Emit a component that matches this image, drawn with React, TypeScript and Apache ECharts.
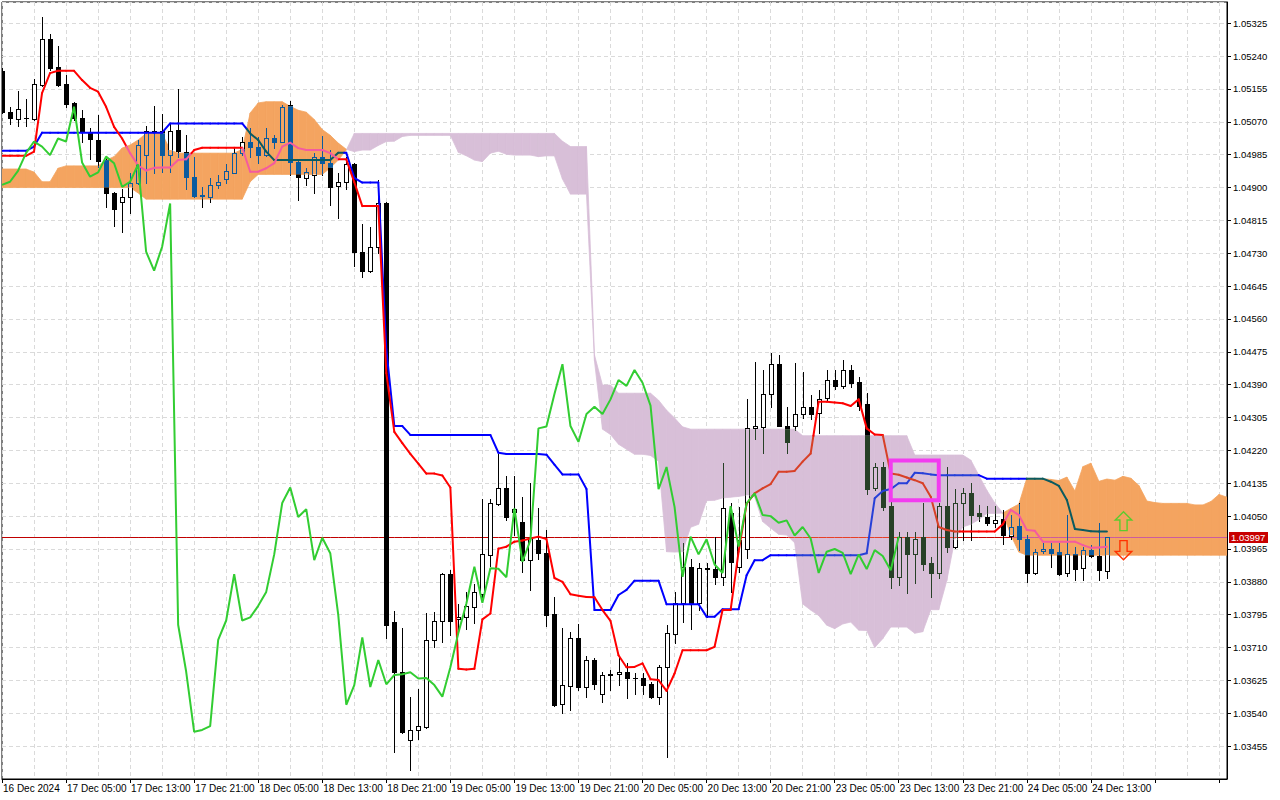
import React, { useEffect, useRef } from "react";
import * as echarts from "echarts";

// ---------------- data ----------------
const xLabels = [
  "16 Dec 2024", "17 Dec 05:00", "17 Dec 13:00", "17 Dec 21:00", "18 Dec 05:00", "18 Dec 13:00",
  "18 Dec 21:00", "19 Dec 05:00", "19 Dec 13:00", "19 Dec 21:00", "20 Dec 05:00", "20 Dec 13:00",
  "20 Dec 21:00", "23 Dec 05:00", "23 Dec 13:00", "23 Dec 21:00", "24 Dec 05:00", "24 Dec 13:00",
];

const opens = [
  1.05202, 1.05095, 1.05077, 1.05079, 1.05077, 1.05165, 1.05284, 1.05211, 1.05168, 1.05118,
  1.05079, 1.05042, 1.05023, 1.04971, 1.04887, 1.04862, 1.04876, 1.04911, 1.04984, 1.05045,
  1.05046, 1.04984, 1.05049, 1.04993, 1.04928, 1.04879, 1.04876, 1.04906, 1.04922, 1.04938,
  1.04989, 1.05019, 1.05006, 1.04984, 1.05029, 1.05019, 1.05114, 1.04965, 1.04924, 1.04932,
  1.04980, 1.04963, 1.04904, 1.04915, 1.04960, 1.04733, 1.04685, 1.04747, 1.04859, 1.03775,
  1.03648, 1.03470, 1.03497, 1.03505, 1.03730, 1.03780, 1.03900, 1.03783, 1.03788, 1.03816,
  1.03849, 1.03949, 1.04081, 1.04124, 1.04061, 1.04035, 1.03936, 1.03987, 1.03954, 1.03797,
  1.03563, 1.03611, 1.03736, 1.03608, 1.03678, 1.03591, 1.03640, 1.03641, 1.03646, 1.03630,
  1.03630, 1.03615, 1.03581, 1.03659, 1.03744, 1.03824, 1.03919, 1.03824, 1.03915, 1.03912,
  1.03892, 1.04057, 1.03918, 1.03965, 1.04277, 1.04281, 1.04366, 1.04443, 1.04284, 1.04283,
  1.04314, 1.04333, 1.04316, 1.04355, 1.04402, 1.04387, 1.04428, 1.04396, 1.04340, 1.04122,
  1.04177, 1.04075, 1.03893, 1.03995, 1.03951, 1.03995, 1.03928, 1.03902, 1.04076, 1.03969,
  1.04083, 1.04109, 1.04057, 1.04048, 1.04033, 1.04042, 1.03998, 1.04024, 1.03992, 1.03903,
  1.03960, 1.03965, 1.03956, 1.03902, 1.03951, 1.03915, 1.03962, 1.03947, 1.03909,
];

const highs = [
  1.05209, 1.05108, 1.05151, 1.05128, 1.05180, 1.05341, 1.05297, 1.05266, 1.05190, 1.05122,
  1.05101, 1.05053, 1.05088, 1.04980, 1.04889, 1.04895, 1.04937, 1.05023, 1.05060, 1.05111,
  1.05090, 1.05066, 1.05154, 1.05036, 1.04980, 1.04902, 1.04924, 1.04932, 1.04960, 1.05002,
  1.05032, 1.05053, 1.05032, 1.05055, 1.05036, 1.05114, 1.05125, 1.04971, 1.04950, 1.04990,
  1.05033, 1.04997, 1.04937, 1.04980, 1.04964, 1.04806, 1.04798, 1.04920, 1.04863, 1.03805,
  1.03760, 1.03581, 1.03604, 1.03800, 1.03803, 1.03903, 1.03910, 1.03823, 1.03854, 1.03874,
  1.04094, 1.04094, 1.04211, 1.04155, 1.04155, 1.04099, 1.04137, 1.04070, 1.04015, 1.03842,
  1.03760, 1.03751, 1.03770, 1.03688, 1.03683, 1.03647, 1.03653, 1.03686, 1.03669, 1.03643,
  1.03643, 1.03621, 1.03665, 1.03768, 1.03853, 1.03981, 1.03938, 1.03928, 1.03928, 1.03997,
  1.04187, 1.04085, 1.04074, 1.04352, 1.04449, 1.04428, 1.04471, 1.04467, 1.04333, 1.04445,
  1.04424, 1.04363, 1.04376, 1.04428, 1.04428, 1.04454, 1.04441, 1.04411, 1.04368, 1.04187,
  1.04190, 1.04087, 1.04010, 1.04010, 1.04010, 1.04083, 1.03945, 1.04083, 1.04176, 1.04119,
  1.04122, 1.04136, 1.04079, 1.04076, 1.04075, 1.04066, 1.04053, 1.04083, 1.04001, 1.03964,
  1.03980, 1.03980, 1.03980, 1.04053, 1.03971, 1.03971, 1.03975, 1.04033, 1.03997,
];

const lows = [
  1.05093, 1.05064, 1.05060, 1.05060, 1.05076, 1.05163, 1.05204, 1.05163, 1.05109, 1.05075,
  1.05019, 1.04973, 1.04954, 1.04849, 1.04801, 1.04786, 1.04835, 1.04909, 1.04911, 1.04937,
  1.04941, 1.04941, 1.04978, 1.04896, 1.04876, 1.04849, 1.04863, 1.04898, 1.04913, 1.04937,
  1.04984, 1.04980, 1.04963, 1.04982, 1.05002, 1.05018, 1.04932, 1.04868, 1.04907, 1.04887,
  1.04932, 1.04855, 1.04820, 1.04895, 1.04697, 1.04669, 1.04682, 1.04731, 1.03734, 1.03441,
  1.03490, 1.03392, 1.03473, 1.03503, 1.03711, 1.03724, 1.03742, 1.03757, 1.03757, 1.03773,
  1.03833, 1.03920, 1.04079, 1.04040, 1.04002, 1.03905, 1.03859, 1.03938, 1.03766, 1.03559,
  1.03542, 1.03548, 1.03600, 1.03583, 1.03603, 1.03568, 1.03600, 1.03613, 1.03580, 1.03591,
  1.03591, 1.03580, 1.03564, 1.03426, 1.03721, 1.03777, 1.03757, 1.03807, 1.03790, 1.03874,
  1.03872, 1.03854, 1.03906, 1.03941, 1.04249, 1.04214, 1.04333, 1.04283, 1.04214, 1.04273,
  1.04304, 1.04301, 1.04264, 1.04350, 1.04378, 1.04381, 1.04385, 1.04324, 1.04107, 1.04117,
  1.04066, 1.03863, 1.03872, 1.03852, 1.03878, 1.03910, 1.03841, 1.03889, 1.03958, 1.03967,
  1.03988, 1.03988, 1.04038, 1.04027, 1.04022, 1.03978, 1.03990, 1.03962, 1.03880, 1.03901,
  1.03954, 1.03919, 1.03897, 1.03896, 1.03886, 1.03886, 1.03944, 1.03886, 1.03889,
];

const closes = [
  1.05096, 1.05079, 1.05102, 1.05080, 1.05167, 1.05284, 1.05210, 1.05165, 1.05116, 1.05079,
  1.05044, 1.05025, 1.04969, 1.04885, 1.04845, 1.04876, 1.04911, 1.05010, 1.05045, 1.05046,
  1.04984, 1.05047, 1.04995, 1.04928, 1.04879, 1.04880, 1.04907, 1.04915, 1.04943, 1.04989,
  1.05019, 1.05006, 1.04984, 1.05027, 1.05019, 1.05109, 1.04965, 1.04928, 1.04939, 1.04980,
  1.04963, 1.04902, 1.04915, 1.04960, 1.04734, 1.04685, 1.04747, 1.04859, 1.03769, 1.03648,
  1.03492, 1.03497, 1.03507, 1.03730, 1.03780, 1.03900, 1.03780, 1.03788, 1.03818, 1.03854,
  1.03951, 1.04084, 1.04124, 1.04048, 1.04068, 1.03936, 1.03994, 1.03954, 1.03794, 1.03562,
  1.03613, 1.03736, 1.03608, 1.03678, 1.03615, 1.03639, 1.03641, 1.03646, 1.03630, 1.03631,
  1.03613, 1.03583, 1.03659, 1.03748, 1.03824, 1.03919, 1.03826, 1.03915, 1.03914, 1.03892,
  1.04070, 1.03932, 1.03988, 1.04277, 1.04282, 1.04366, 1.04443, 1.04283, 1.04242, 1.04314,
  1.04333, 1.04314, 1.04352, 1.04402, 1.04387, 1.04428, 1.04395, 1.04336, 1.04120, 1.04177,
  1.04074, 1.03893, 1.03997, 1.03951, 1.03990, 1.03925, 1.03903, 1.04076, 1.03971, 1.04083,
  1.04109, 1.04053, 1.04050, 1.04033, 1.04039, 1.04000, 1.04022, 1.03992, 1.03903, 1.03958,
  1.03965, 1.03955, 1.03900, 1.03951, 1.03913, 1.03962, 1.03947, 1.03910, 1.03997,
];

// Tenkan-sen (red)
const tenkan = [
  1.04982, 1.04982, 1.04982, 1.04982, 1.04993, 1.05144, 1.05196, 1.05202, 1.05202, 1.05202,
  1.05178, 1.05158, 1.05148, 1.05109, 1.05057, 1.05027, 1.04989, 1.04957, 1.04944, 1.04951,
  1.04952, 1.04952, 1.04971, 1.04973, 1.04997, 1.05003, 1.05003, 1.05003, 1.05003, 1.05003,
  1.05003, 1.04941, 1.04941, 1.04950, 1.04963, 1.05006, 1.05016, 1.05002, 1.04997, 1.04997,
  1.04997, 1.04989, 1.04973, 1.04973, 1.04914, 1.04852, 1.04852, 1.04852, 1.04420, 1.04268,
  1.04239, 1.04211, 1.04186, 1.04160, 1.04160, 1.04155, 1.04124, 1.03655, 1.03653, 1.03655,
  1.03783, 1.03798, 1.03966, 1.03971, 1.03984, 1.03987, 1.03992, 1.03997, 1.03991, 1.03890,
  1.03880, 1.03848, 1.03844, 1.03841, 1.03840, 1.03807, 1.03779, 1.03690, 1.03659, 1.03660,
  1.03669, 1.03628, 1.03626, 1.03598, 1.03643, 1.03703, 1.03703, 1.03703, 1.03703, 1.03712,
  1.03807, 1.03807, 1.03958, 1.04082, 1.04109, 1.04122, 1.04133, 1.04165, 1.04165, 1.04167,
  1.04191, 1.04212, 1.04346, 1.04346, 1.04344, 1.04342, 1.04335, 1.04352, 1.04277, 1.04261,
  1.04260, 1.04160, 1.04157, 1.04150, 1.04143, 1.04135, 1.04100, 1.04022, 1.04014, 1.04010,
  1.04010, 1.04010, 1.04010, 1.04010, 1.04010, 1.04029, 1.04066, 1.04053, 1.04014, 1.04012,
  1.03984, 1.03984, 1.03984, 1.03984, 1.03984, 1.03975, 1.03968, 1.03969, 1.03971,
];

// Kijun-sen (blue)
const kijun = [
  1.04995, 1.04995, 1.04995, 1.04995, 1.05006, 1.05042, 1.05042, 1.05042, 1.05042, 1.05042,
  1.05042, 1.05042, 1.05042, 1.05042, 1.05042, 1.05042, 1.05042, 1.05042, 1.05042, 1.05042,
  1.05042, 1.05066, 1.05066, 1.05066, 1.05066, 1.05066, 1.05066, 1.05066, 1.05066, 1.05066,
  1.05066, 1.05040, 1.05023, 1.04993, 1.04971, 1.04971, 1.04971, 1.04971, 1.04971, 1.04971,
  1.04971, 1.04971, 1.04990, 1.04990, 1.04925, 1.04913, 1.04913, 1.04913, 1.04482, 1.04283,
  1.04283, 1.04260, 1.04260, 1.04260, 1.04260, 1.04260, 1.04260, 1.04260, 1.04260, 1.04260,
  1.04260, 1.04260, 1.04214, 1.04211, 1.04211, 1.04211, 1.04211, 1.04211, 1.04209, 1.04183,
  1.04158, 1.04158, 1.04158, 1.04120, 1.03807, 1.03807, 1.03807, 1.03846, 1.03859, 1.03883,
  1.03883, 1.03883, 1.03883, 1.03822, 1.03822, 1.03822, 1.03822, 1.03822, 1.03790, 1.03790,
  1.03809, 1.03809, 1.03809, 1.03897, 1.03936, 1.03936, 1.03949, 1.03949, 1.03949, 1.03949,
  1.03949, 1.03949, 1.03949, 1.03949, 1.03949, 1.03949, 1.03949, 1.03949, 1.03954, 1.04096,
  1.04115, 1.04120, 1.04135, 1.04135, 1.04162, 1.04161, 1.04158, 1.04156, 1.04156, 1.04156,
  1.04156, 1.04156, 1.04156, 1.04147, 1.04147, 1.04147, 1.04147, 1.04147, 1.04147, 1.04147,
  1.04147, 1.04139, 1.04128, 1.04092, 1.04017, 1.04014, 1.04011, 1.04010, 1.04010,
];

// Senkou Span A (projected 26 bars ahead, 154 slots)
const spanA = [
  1.04948, 1.04948, 1.04948, 1.04948, 1.04940, 1.04915, 1.04915, 1.04950, 1.04956, 1.04956,
  1.04956, 1.04956, 1.04956, 1.04971, 1.04980, 1.05002, 1.05010, 1.05023, 1.05040, 1.05040,
  1.05040, 1.04997, 1.04989, 1.04989, 1.04989, 1.04989, 1.04989, 1.04989, 1.04989, 1.04989,
  1.04999, 1.05093, 1.05119, 1.05122, 1.05122, 1.05122, 1.05110, 1.05100, 1.05095, 1.05076,
  1.05050, 1.05035, 1.05015, 1.04999, 1.04993, 1.04997, 1.04997, 1.05009, 1.05019, 1.05020,
  1.05032, 1.05035, 1.05035, 1.05035, 1.05035, 1.05035, 1.05035, 1.04991, 1.04982, 1.04971,
  1.04967, 1.04989, 1.04994, 1.04986, 1.04984, 1.04984, 1.04984, 1.04980, 1.04982, 1.04982,
  1.04922, 1.04883, 1.04883, 1.04883, 1.04451, 1.04275, 1.04261, 1.04236, 1.04223, 1.04210,
  1.04210, 1.04207, 1.04192, 1.03958, 1.03957, 1.03958, 1.04021, 1.04029, 1.04090, 1.04091,
  1.04097, 1.04099, 1.04101, 1.04104, 1.04100, 1.04036, 1.04019, 1.04003, 1.04001, 1.03981,
  1.03823, 1.03807, 1.03793, 1.03768, 1.03759, 1.03771, 1.03776, 1.03755, 1.03754, 1.03710,
  1.03733, 1.03763, 1.03763, 1.03763, 1.03747, 1.03751, 1.03808, 1.03808, 1.03883, 1.03990,
  1.04022, 1.04029, 1.04041, 1.04057, 1.04057, 1.04058, 1.04070, 1.04081, 1.04148, 1.04148,
  1.04147, 1.04145, 1.04142, 1.04151, 1.04115, 1.04178, 1.04187, 1.04140, 1.04146, 1.04143,
  1.04153, 1.04148, 1.04129, 1.04089, 1.04085, 1.04083, 1.04083, 1.04083, 1.04083, 1.04079,
  1.04079, 1.04088, 1.04106, 1.04099,
];

// Senkou Span B (projected 26 bars ahead, 154 slots)
const spanB = [
  1.04900, 1.04900, 1.04900, 1.04900, 1.04900, 1.04900, 1.04900, 1.04900, 1.04900, 1.04900,
  1.04900, 1.04900, 1.04900, 1.04900, 1.04900, 1.04900, 1.04900, 1.04886, 1.04870, 1.04870,
  1.04870, 1.04870, 1.04870, 1.04870, 1.04870, 1.04870, 1.04870, 1.04870, 1.04870, 1.04870,
  1.04870, 1.04915, 1.04934, 1.04934, 1.04934, 1.04934, 1.04934, 1.04934, 1.04934, 1.04934,
  1.04934, 1.04951, 1.04971, 1.04997, 1.05040, 1.05040, 1.05040, 1.05040, 1.05040, 1.05040,
  1.05040, 1.05040, 1.05040, 1.05040, 1.05040, 1.05040, 1.05040, 1.05040, 1.05040, 1.05040,
  1.05040, 1.05040, 1.05040, 1.05040, 1.05040, 1.05040, 1.05040, 1.05040, 1.05040, 1.05040,
  1.05020, 1.05006, 1.05006, 1.05006, 1.04467, 1.04389, 1.04389, 1.04368, 1.04368, 1.04368,
  1.04368, 1.04368, 1.04350, 1.04324, 1.04304, 1.04281, 1.04275, 1.04275, 1.04275, 1.04275,
  1.04275, 1.04275, 1.04275, 1.04275, 1.04275, 1.04275, 1.04275, 1.04275, 1.04275, 1.04275,
  1.04258, 1.04258, 1.04258, 1.04258, 1.04258, 1.04258, 1.04258, 1.04258, 1.04258, 1.04258,
  1.04258, 1.04258, 1.04258, 1.04258, 1.04208, 1.04208, 1.04208, 1.04208, 1.04208, 1.04208,
  1.04208, 1.04195, 1.04156, 1.04117, 1.04084, 1.04058, 1.04001, 1.03957, 1.03949, 1.03949,
  1.03949, 1.03949, 1.03949, 1.03949, 1.03949, 1.03949, 1.03949, 1.03949, 1.03949, 1.03949,
  1.03949, 1.03949, 1.03949, 1.03949, 1.03949, 1.03949, 1.03949, 1.03949, 1.03949, 1.03949,
  1.03949, 1.03949, 1.03949, 1.03949,
];

// Chikou span = close plotted 26 bars back
const CHIKOU_SHIFT = 26;
const chikou = closes.slice(CHIKOU_SHIFT);

const lastPrice = 1.03997;
const signalBar = 140;
const buyArrowPrice = 1.04037;
const sellArrowPrice = 1.03962;
const boxBars = [111, 117];
const boxPrices = [1.04194, 1.04091];

const Y_MIN = 1.0337;
const Y_MAX = 1.0538;
const Y_STEP = 0.00085;
const SLOT_COUNT = 154;
const LABEL_EVERY = 8;

// ---------------- styling helpers ----------------
const ORANGE = "#F4A460";
const THISTLE = "#D8BFD8";
const FONT = "Liberation Sans, Arial, sans-serif";

const xorHex = (a: string, b: string) =>
  "#" + ((parseInt(a.slice(1), 16) ^ parseInt(b.slice(1), 16)) & 0xffffff).toString(16).padStart(6, "0");
// MT4 paints the cloud in XOR mode: anything under it is xored with the inverse cloud colour
const tint = (color: string, cloud: string) => xorHex(color, xorHex(cloud, "#FFFFFF"));

function splitRange(a: number, b: number, c1: number, c2: number) {
  const lo = Math.min(a, b), hi = Math.max(a, b);
  const p = Math.min(Math.max(c1, lo), hi);
  const q = Math.min(Math.max(c2, lo), hi);
  const out: { a: number; b: number; inside: boolean }[] = [];
  if (p - lo > 0.01) out.push({ a: lo, b: p, inside: false });
  if (q - p > 0.01) out.push({ a: p, b: q, inside: true });
  if (hi - q > 0.01) out.push({ a: q, b: hi, inside: false });
  return out;
}

function renderCloud(_params: any, api: any) {
  const i = api.value(0);
  const a0 = api.value(1), b0 = api.value(2), a1 = api.value(3), b1 = api.value(4);
  const pa0 = api.coord([i, a0]), pb0 = api.coord([i, b0]);
  const pa1 = api.coord([i + 1, a1]), pb1 = api.coord([i + 1, b1]);
  const d0 = a0 - b0, d1 = a1 - b1;
  const poly = (pts: number[][], bull: boolean) => ({
    type: "polygon",
    shape: { points: pts },
    style: { fill: bull ? ORANGE : THISTLE, stroke: bull ? ORANGE : THISTLE, lineWidth: 0.8 },
  });
  if (d0 * d1 >= 0) return poly([pa0, pa1, pb1, pb0], d0 + d1 >= 0);
  const t = d0 / (d0 - d1);
  const pc = [pa0[0] + (pa1[0] - pa0[0]) * t, pa0[1] + (pa1[1] - pa0[1]) * t];
  return { type: "group", children: [poly([pa0, pc, pb0], d0 > 0), poly([pc, pa1, pb1], d1 > 0)] };
}

function renderCandle(_params: any, api: any) {
  const i = api.value(0);
  const o = api.value(1), c = api.value(2), l = api.value(3), h = api.value(4);
  const px = (v: number) => api.coord([i, v]);
  const x = Math.round(px(o)[0]);
  const yO = px(o)[1], yC = px(c)[1], yL = px(l)[1], yH = px(h)[1];
  const yA = px(spanA[i])[1], yB = px(spanB[i])[1];
  const c1 = Math.min(yA, yB), c2 = Math.max(yA, yB);
  const cloud = spanA[i] >= spanB[i] ? ORANGE : THISTLE;
  const ink = (inside: boolean) => (inside ? tint("#000000", cloud) : "#000000");
  const isIn = (y: number) => y >= c1 && y <= c2;
  const top = Math.round(Math.min(yO, yC));
  const bot = Math.round(Math.max(yO, yC));
  const xc = x + 0.5;
  const left = x - 2, w = 5;
  const children: any[] = [];
  const vline = (xx: number, a: number, b: number, inside: boolean) => ({
    type: "line",
    shape: { x1: xx, y1: a, x2: xx, y2: b },
    style: { stroke: ink(inside), lineWidth: 1 },
  });
  const hline = (y: number) => ({
    type: "line",
    shape: { x1: left, y1: y + 0.5, x2: left + w, y2: y + 0.5 },
    style: { stroke: ink(isIn(y + 0.5)), lineWidth: 1 },
  });
  for (const s of splitRange(Math.round(yH), top, c1, c2)) children.push(vline(xc, s.a, s.b, s.inside));
  for (const s of splitRange(bot, Math.round(yL) + 1, c1, c2)) children.push(vline(xc, s.a, s.b, s.inside));
  if (bot - top < 1) {
    children.push(hline(top));
  } else if (c > o) {
    for (const s of splitRange(top, bot + 1, c1, c2)) {
      if (!s.inside)
        children.push({ type: "rect", shape: { x: left, y: s.a, width: w, height: s.b - s.a }, style: { fill: "#FFFFFF" } });
      children.push(vline(left + 0.5, s.a, s.b, s.inside));
      children.push(vline(left + w - 0.5, s.a, s.b, s.inside));
    }
    children.push(hline(top));
    children.push(hline(bot));
  } else {
    for (const s of splitRange(top, bot + 1, c1, c2))
      children.push({ type: "rect", shape: { x: left, y: s.a, width: w, height: s.b - s.a }, style: { fill: ink(s.inside) } });
  }
  return { type: "group", children };
}

function segmentRenderer(base: string, width: number, crisp: boolean) {
  return (_params: any, api: any) => {
    const i = api.value(0);
    const v0 = api.value(1), v1 = api.value(2);
    const a0 = spanA[i], a1 = spanA[i + 1], b0 = spanB[i], b1 = spanB[i + 1];
    const ts = [0, 1];
    const addCross = (d0: number, d1: number) => {
      if (d0 * d1 < 0) ts.push(d0 / (d0 - d1));
    };
    addCross(v0 - a0, v1 - a1);
    addCross(v0 - b0, v1 - b1);
    ts.sort((m, n) => m - n);
    const p0 = api.coord([i, v0]), p1 = api.coord([i + 1, v1]);
    if (crisp) {
      p0[1] = Math.round(p0[1]) + 0.5;
      p1[1] = Math.round(p1[1]) + 0.5;
    }
    const children: any[] = [];
    for (let k = 0; k < ts.length - 1; k++) {
      const t0 = ts[k], t1 = ts[k + 1];
      if (t1 - t0 < 1e-6) continue;
      const tm = (t0 + t1) / 2;
      const vm = v0 + (v1 - v0) * tm, am = a0 + (a1 - a0) * tm, bm = b0 + (b1 - b0) * tm;
      const inside = vm >= Math.min(am, bm) && vm <= Math.max(am, bm);
      const stroke = inside ? tint(base, am >= bm ? ORANGE : THISTLE) : base;
      children.push({
        type: "line",
        shape: {
          x1: p0[0] + (p1[0] - p0[0]) * t0,
          y1: p0[1] + (p1[1] - p0[1]) * t0,
          x2: p0[0] + (p1[0] - p0[0]) * t1,
          y2: p0[1] + (p1[1] - p0[1]) * t1,
        },
        style: { stroke, lineWidth: width, lineCap: crisp ? "butt" : "round" },
      });
    }
    return { type: "group", children };
  };
}

function renderArrow(_params: any, api: any) {
  const [cx, cy] = api.coord([api.value(0), api.value(1)]);
  const dir = api.value(2);
  const shape = [[0, -9.5], [8.3, -1.2], [3.6, -1.2], [3.6, 9.5], [-3.6, 9.5], [-3.6, -1.2], [-8.3, -1.2]];
  const pts = shape.map(([dx, dy]) => [Math.round(cx) + 0.5 + dx, cy + dy * dir]);
  return {
    type: "polygon",
    shape: { points: pts },
    style: { fill: "none", stroke: dir > 0 ? "#5CCB2E" : "#FF3300", lineWidth: 1.4 },
  };
}

function renderBox(_params: any, api: any) {
  const p0 = api.coord([api.value(0), api.value(1)]);
  const p1 = api.coord([api.value(2), api.value(3)]);
  return {
    type: "rect",
    shape: { x: p0[0], y: p0[1], width: p1[0] - p0[0], height: p1[1] - p0[1] },
    style: { fill: "none", stroke: "#F23CF0", lineWidth: 4 },
  };
}

function renderPriceLabel(_params: any, api: any) {
  const [xr, yp] = api.coord([api.value(0), api.value(1)]);
  const yc = Math.round(yp);
  return {
    type: "group",
    children: [
      { type: "rect", shape: { x: xr + 2, y: yc - 5, width: 39, height: 11 }, style: { fill: "#C80000" } },
      {
        type: "text",
        style: {
          x: xr + 4, y: yc + 0.5, text: api.value(1).toFixed(5), fill: "#FFFFFF",
          font: `9.5px ${FONT}`, verticalAlign: "middle", align: "left",
        },
      },
    ],
  };
}

export default function App() {
  const ref = useRef<HTMLDivElement>(null);
  useEffect(() => {
    if (!ref.current) return;
    const chart = echarts.init(ref.current, undefined, { renderer: "svg" });
    const slots = Array.from({ length: SLOT_COUNT }, (_, i) => String(i));
    const cloudData = spanA.slice(0, -1).map((a, i) => [i, a, spanB[i], spanA[i + 1], spanB[i + 1]]);
    const candleData = opens.map((o, i) => [i, o, closes[i], lows[i], highs[i]]);
    const tenkanData = tenkan.slice(0, -1).map((v, i) => [i, v, tenkan[i + 1]]);
    const kijunData = kijun.slice(0, -1).map((v, i) => [i, v, kijun[i + 1]]);
    const priceData = slots.slice(0, -1).map((_, i) => [i, lastPrice, lastPrice]);

    chart.setOption({
      animation: false,
      backgroundColor: "#FFFFFF",
      grid: { left: 2, right: 53, top: 2, bottom: 21, show: true, borderColor: "#000", borderWidth: 1, backgroundColor: "#FFFFFF" },
      xAxis: {
        type: "category",
        data: slots,
        boundaryGap: false,
        axisLine: { show: true, lineStyle: { color: "#000", width: 1 } },
        axisTick: { show: true, interval: LABEL_EVERY - 1, length: 4, lineStyle: { color: "#000" } },
        axisLabel: {
          interval: LABEL_EVERY - 1,
          formatter: (_v: string, idx: number) => xLabels[idx / LABEL_EVERY] ?? "",
          align: "left",
          margin: 4,
          padding: [0, 0, 0, 1],
          color: "#000",
          fontSize: 10,
          fontFamily: FONT,
        },
        splitLine: { show: true, interval: 3, lineStyle: { color: "#DADADA", type: [4, 3], width: 1 } },
      },
      yAxis: {
        type: "value",
        position: "right",
        min: Y_MIN,
        max: Y_MAX,
        interval: Y_STEP,
        axisLine: { show: true, lineStyle: { color: "#000" } },
        axisTick: { show: true, length: 4, lineStyle: { color: "#000" } },
        axisLabel: {
          formatter: (v: number) => v.toFixed(5),
          showMinLabel: false,
          showMaxLabel: false,
          margin: 6,
          color: "#000",
          fontSize: 9.5,
          fontFamily: FONT,
        },
        splitLine: { show: true, lineStyle: { color: "#DADADA", type: [4, 3], width: 1 } },
      },
      series: [
        { type: "custom", name: "cloud", data: cloudData, renderItem: renderCloud, encode: { x: 0, y: 1 }, clip: true, z: 1, silent: true },
        { type: "custom", name: "price", data: priceData, renderItem: segmentRenderer("#C00000", 1, true), encode: { x: 0, y: 1 }, clip: true, z: 2, silent: true },
        { type: "custom", name: "candles", data: candleData, renderItem: renderCandle, encode: { x: 0, y: [1, 2, 3, 4] }, clip: true, z: 3, silent: true },
        { type: "custom", name: "kijun", data: kijunData, renderItem: segmentRenderer("#0000FF", 2, false), encode: { x: 0, y: 1 }, clip: true, z: 4, silent: true },
        { type: "custom", name: "tenkan", data: tenkanData, renderItem: segmentRenderer("#FF0000", 2, false), encode: { x: 0, y: 1 }, clip: true, z: 4, silent: true },
        {
          type: "line", name: "chikou", data: chikou, symbol: "none", showSymbol: false,
          lineStyle: { color: "#32CD32", width: 2 }, z: 5, silent: true,
        },
        { type: "custom", name: "box", data: [[boxBars[0], boxPrices[0], boxBars[1], boxPrices[1]]], renderItem: renderBox, encode: { x: 0, y: 1 }, clip: false, z: 6, silent: true },
        { type: "custom", name: "arrows", data: [[signalBar, buyArrowPrice, 1], [signalBar, sellArrowPrice, -1]], renderItem: renderArrow, encode: { x: 0, y: 1 }, clip: false, z: 6, silent: true },
        { type: "custom", name: "priceLabel", data: [[SLOT_COUNT - 1, lastPrice]], renderItem: renderPriceLabel, encode: { x: 0, y: 1 }, clip: false, z: 7, silent: true },
      ],
    });
    return () => chart.dispose();
  }, []);

  return (
    <div
      ref={ref}
      style={{ position: "fixed", left: 0, top: 0, width: 1280, height: 800, background: "#FFFFFF" }}
    />
  );
}
